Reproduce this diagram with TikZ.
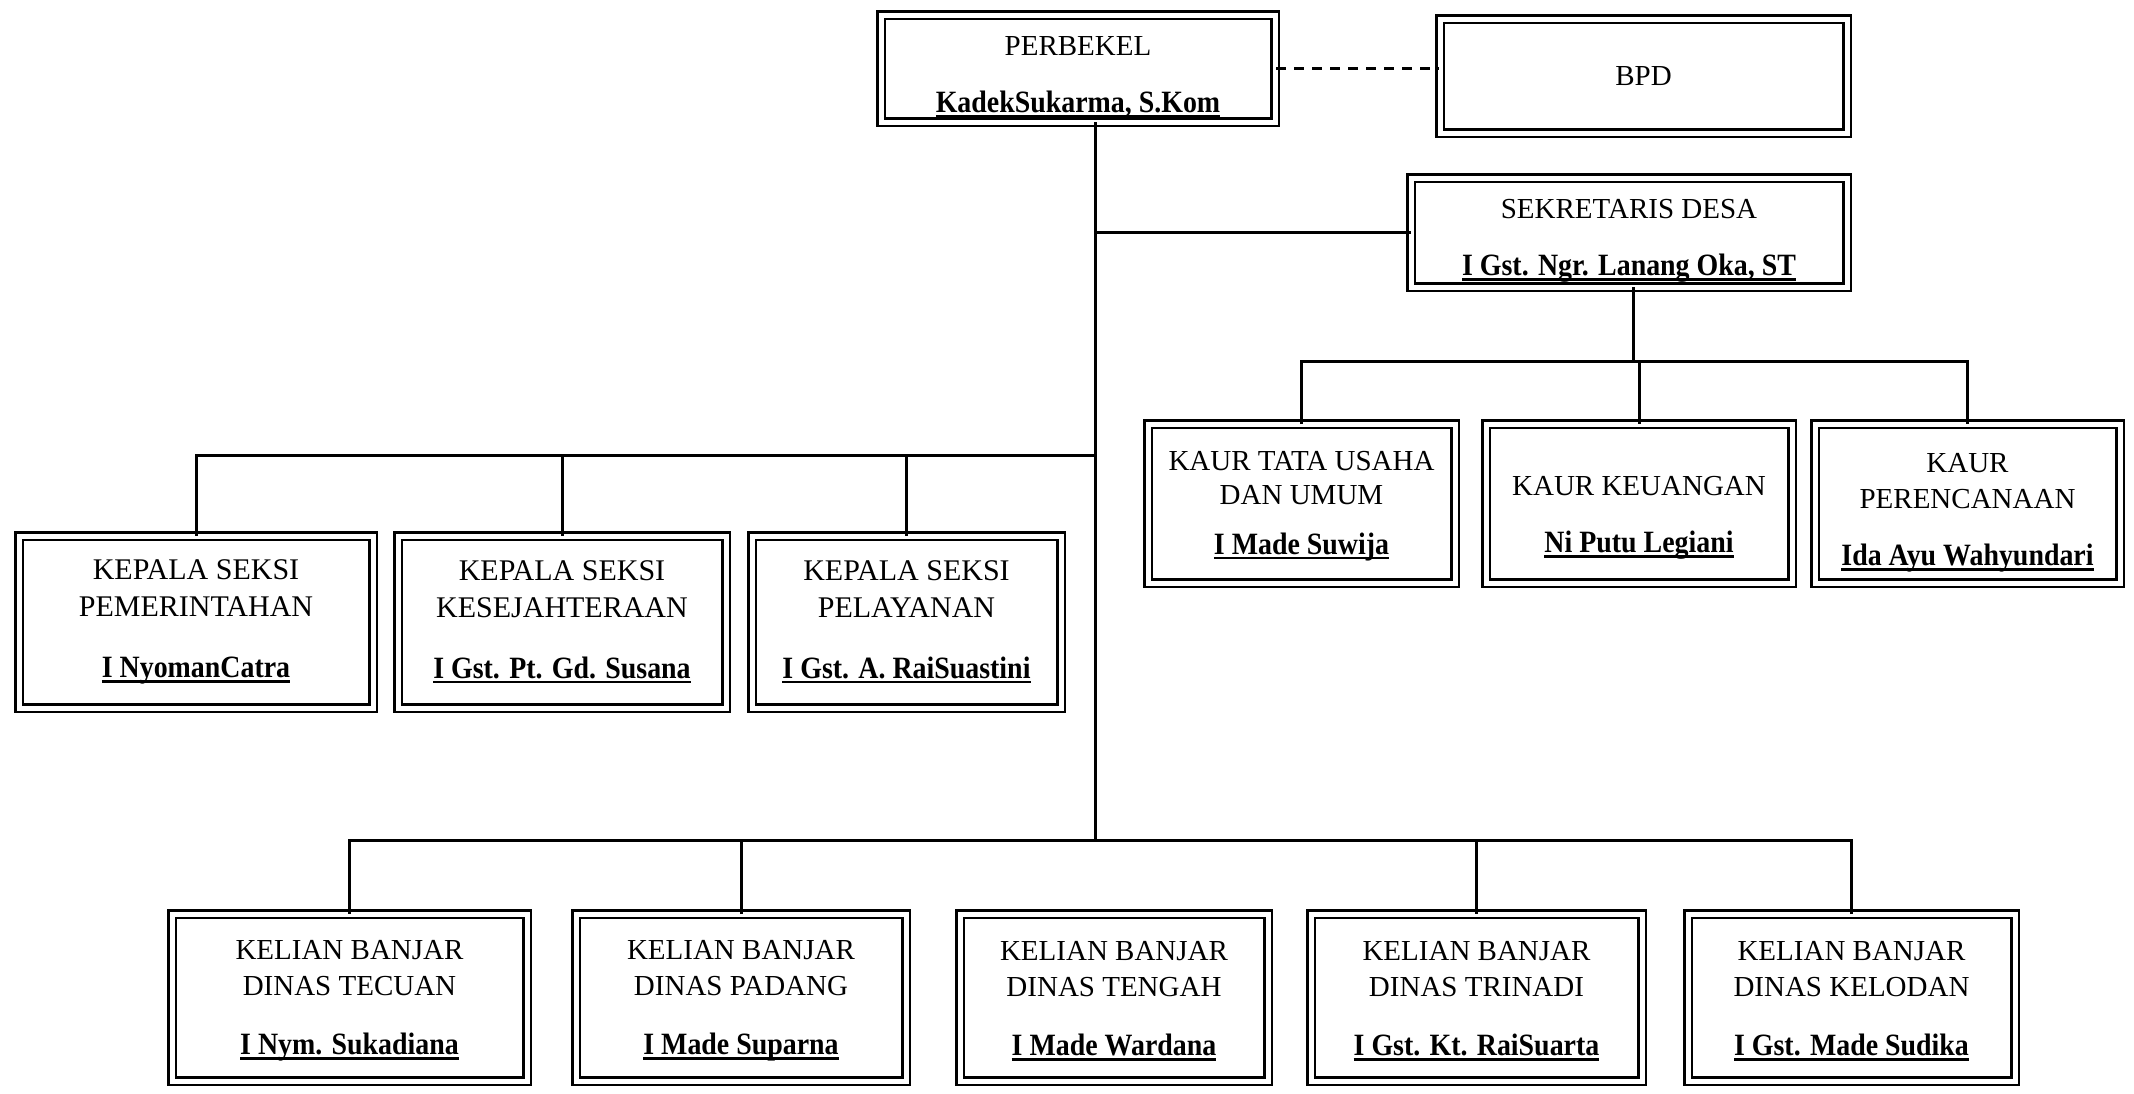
\documentclass[tikz,border=0pt]{standalone}
\usepackage{fontspec}
\setmainfont{Liberation Serif}
\newfontfamily\namefont{Liberation Serif}[FakeStretch=0.9]
\newcommand\nmu[1]{{\namefont\bfseries\fontsize{31}{36}\selectfont\setbox0\hbox{#1}\rlap{\rule[-5pt]{\wd0}{2.4pt}}\box0}}
\newcommand\tpad[1]{\rule{0pt}{#1}}
\begin{document}
\begin{tikzpicture}[x=1pt,y=-1pt,
  box/.style={draw, double, double distance=5pt, line width=2.4pt, fill=white,
    inner sep=0pt, align=center, font=\fontsize{29}{36}\selectfont, text=black},
  conn/.style={line width=3pt, line cap=rect},
  dashconn/.style={line width=3pt, dash pattern=on 10pt off 8pt}]
\fill[white] (0,0) rectangle (2134,1093);
\useasboundingbox (0,0) rectangle (2134,1093);
% top
\node[box, minimum width=394pt, minimum height=107pt] (perbekel) at (1078,68.5)
  {\tpad{36pt}PERBEKEL\\[21pt]\nmu{KadekSukarma, S.Kom}};
\node[box, minimum width=407pt, minimum height=114pt] (bpd) at (1643.5,76) {BPD};
\node[box, minimum width=436pt, minimum height=109pt] (sek) at (1629,232.5)
  {\tpad{36pt}SEKRETARIS DESA\\[21pt]\nmu{I Gst. Ngr. Lanang Oka, ST}};
% kaur
\node[box, minimum width=307pt, minimum height=159pt] (kaur1) at (1301.5,503.5)
  {\tpad{24pt}KAUR TATA USAHA\\[-2pt]DAN UMUM\\[14pt]\nmu{I Made Suwija}};
\node[box, minimum width=306pt, minimum height=159pt] (kaur2) at (1639,503.5)
  {\tpad{48pt}KAUR KEUANGAN\\[21pt]\nmu{Ni Putu Legiani}};
\node[box, minimum width=305pt, minimum height=159pt] (kaur3) at (1967.5,503.5)
  {\tpad{38pt}KAUR\\PERENCANAAN\\[21pt]\nmu{Ida Ayu Wahyundari}};
% kepala seksi
\node[box, minimum width=354pt, minimum height=172pt, font=\fontsize{30}{37}\selectfont] (ks1) at (196,622)
  {KEPALA SEKSI\\PEMERINTAHAN\\[24pt]\nmu{I NyomanCatra}};
\node[box, minimum width=328pt, minimum height=172pt, font=\fontsize{30}{37}\selectfont] (ks2) at (562,622)
  {KEPALA SEKSI\\KESEJAHTERAAN\\[24pt]\nmu{I Gst. Pt. Gd. Susana}};
\node[box, minimum width=309pt, minimum height=172pt, font=\fontsize{30}{37}\selectfont] (ks3) at (906.5,622)
  {KEPALA SEKSI\\PELAYANAN\\[24pt]\nmu{I Gst. A. RaiSuastini}};
% kelian banjar
\node[box, minimum width=355pt, minimum height=167pt] (kb1) at (349.5,997.5)
  {\tpad{26pt}KELIAN BANJAR\\DINAS TECUAN\\[23pt]\nmu{I Nym. Sukadiana}};
\node[box, minimum width=330pt, minimum height=167pt] (kb2) at (741,997.5)
  {\tpad{26pt}KELIAN BANJAR\\DINAS PADANG\\[23pt]\nmu{I Made Suparna}};
\node[box, minimum width=308pt, minimum height=167pt] (kb3) at (1114,997.5)
  {\tpad{26pt}KELIAN BANJAR\\DINAS TENGAH\\[23pt]\nmu{I Made Wardana}};
\node[box, minimum width=331pt, minimum height=167pt] (kb4) at (1476.5,997.5)
  {\tpad{26pt}KELIAN BANJAR\\DINAS TRINADI\\[23pt]\nmu{I Gst. Kt. RaiSuarta}};
\node[box, minimum width=327pt, minimum height=167pt] (kb5) at (1851.5,997.5)
  {\tpad{26pt}KELIAN BANJAR\\DINAS KELODAN\\[23pt]\nmu{I Gst. Made Sudika}};
% spine and buses
\coordinate (spB) at (1095,840);
\coordinate (kpbus) at (1095,455);
\coordinate (kabus) at (1633,361);
\draw[dashconn] (perbekel.east) -- (perbekel.east -| bpd.west);
\draw[conn] (perbekel.south -| spB) -- (spB);
\draw[conn] (sek.west) -- (sek.west -| spB);
\draw[conn] (sek.south -| kabus) -- (kabus);
\draw[conn] (kaur1.north) |- (kabus) -| (kaur3.north);
\draw[conn] (kaur2.north) -- (kaur2.north |- kabus);
\draw[conn] (ks1.north) |- (kpbus);
\draw[conn] (ks2.north) -- (ks2.north |- kpbus);
\draw[conn] (ks3.north) -- (ks3.north |- kpbus);
\draw[conn] (kb1.north) |- (spB) -| (kb5.north);
\draw[conn] (kb2.north) -- (kb2.north |- spB);
\draw[conn] (kb4.north) -- (kb4.north |- spB);
\end{tikzpicture}
\end{document}
